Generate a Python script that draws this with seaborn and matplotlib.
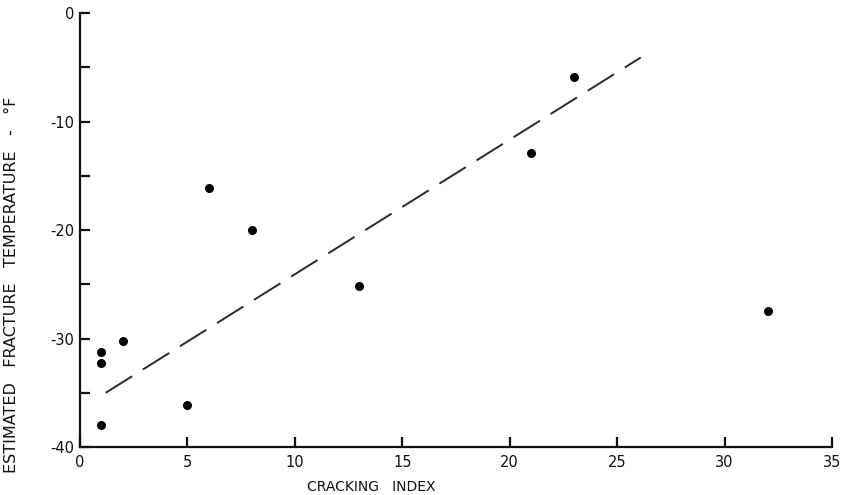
import numpy as np
import pandas as pd
import matplotlib
matplotlib.use("Agg")
import matplotlib.pyplot as plt
import seaborn as sns
from matplotlib.ticker import MultipleLocator

# Data
cracking_index = [1, 1, 1, 2, 5, 6, 8, 13, 21, 23, 32]
fracture_temp = [-31.2, -32.3, -38.0, -30.2, -36.1, -16.1, -20.0, -25.2, -12.9, -5.9, -27.5]
fit_x = [1.2, 26.1]
fit_y = [-35.0, -4.1]
x_ticks = [0, 5, 10, 15, 20, 25, 30, 35]
y_ticks = [0, -10, -20, -30, -40]

sns.set_style("ticks")
plt.rcParams['font.family'] = ['DejaVu Sans']
plt.rcParams['axes.unicode_minus'] = False

fig = plt.figure(figsize=(8.42, 4.95), dpi=100)
ax = fig.add_axes([80/842, 1 - 447/495, (832 - 80)/842, (447 - 13)/495])

df = pd.DataFrame({"x": cracking_index, "y": fracture_temp})
fit = pd.DataFrame({"x": fit_x, "y": fit_y})

sns.lineplot(data=fit, x="x", y="y", ax=ax, color="#2a2a2a", linewidth=1.4,
             dashes=False, legend=False)
ax.lines[-1].set_dashes((16, 6.5))
sns.scatterplot(data=df, x="x", y="y", ax=ax, color="black", s=42,
                edgecolor="black", linewidth=0, legend=False, zorder=3)

ax.set_xlim(0, 35)
ax.set_ylim(-40, 0)
ax.set_xticks(x_ticks)
ax.set_yticks(y_ticks)
ax.yaxis.set_minor_locator(MultipleLocator(5))

for s in ["top", "right"]:
    ax.spines[s].set_visible(False)
for s in ["left", "bottom"]:
    ax.spines[s].set_linewidth(1.6)
    ax.spines[s].set_color("#111111")

ax.tick_params(axis="both", which="both", direction="in", length=7, width=1.6,
               colors="#111111", labelsize=10.5, pad=4)
ax.tick_params(axis="x", pad=6)

ax.set_xlabel("CRACKING   INDEX", fontsize=10, color="#111111")
ax.set_ylabel("ESTIMATED   FRACTURE   TEMPERATURE   -   °F", fontsize=11.5, color="#111111")
ax.xaxis.set_label_coords((371 - 80) / 752, -(487 - 447) / 434)
ax.yaxis.set_label_coords(-(80 - 12) / 752, (447 - 285) / 434)
ax.xaxis.label.set_va("center")
ax.yaxis.label.set_va("center")

fig.savefig("out.png", dpi=100, facecolor="white")
